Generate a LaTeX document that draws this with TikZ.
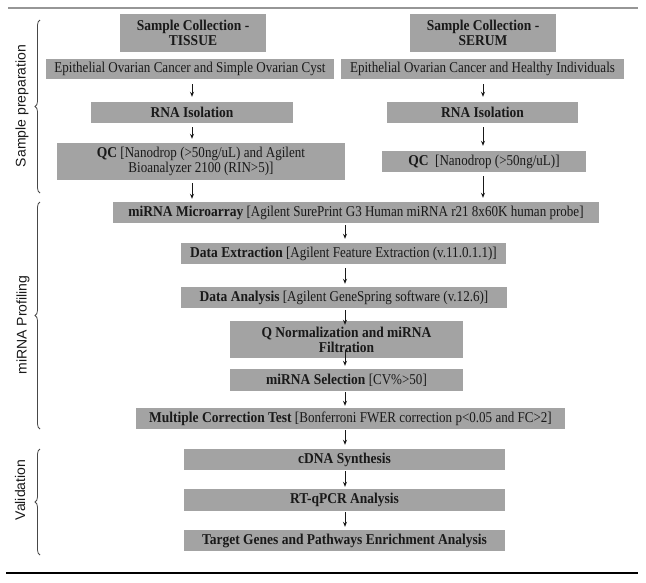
\documentclass[tikz,border=0pt]{standalone}
\usepackage{fontspec}
\setmainfont{Liberation Serif}[UprightFeatures={FakeStretch=0.87},BoldFeatures={FakeStretch=0.9}]
\newfontfamily\labfont{Liberation Sans}
\usetikzlibrary{arrows.meta,decorations.pathreplacing}
\definecolor{boxgray}{RGB}{163,163,163}
\definecolor{linegray}{RGB}{150,150,150}
\definecolor{ink}{RGB}{25,25,25}
\tikzset{
  box/.style={fill=boxgray, inner sep=0pt, align=center, text=ink,
    font=\fontsize{15}{15}\selectfont},
  arr/.style={draw=ink, line width=0.9pt, -{Stealth[length=5pt,width=4pt]}},
  brc/.style={draw=ink!80, line width=0.8pt, decorate,
    decoration={brace, amplitude=5pt}},
  lab/.style={rotate=90, font=\labfont\fontsize{14}{16}\selectfont, text=ink},
}
\begin{document}
\begin{tikzpicture}[x=1pt,y=-1pt]
\useasboundingbox (0,0) rectangle (646,582);
% rules
\draw[linegray, line width=1.1pt] (8,8) -- (638,8);
\draw[black, line width=1.6pt] (6,573) -- (638,573);
% boxes
\node[box, minimum width=146, minimum height=38] (tissue) at (193,33) {\textbf{Sample Collection -}\\\textbf{TISSUE}};
\node[box, minimum width=146, minimum height=38] (serum) at (483,33) {\textbf{Sample Collection -}\\\textbf{SERUM}};
\node[box, minimum width=288, minimum height=20] (epiL) at (190,69) {Epithelial Ovarian Cancer and Simple Ovarian Cyst};
\node[box, minimum width=283, minimum height=20] (epiR) at (482.5,69) {Epithelial Ovarian Cancer and Healthy Individuals};
\node[box, minimum width=202, minimum height=21] (rnaL) at (192,112.5) {\textbf{RNA Isolation}};
\node[box, minimum width=191, minimum height=21] (rnaR) at (482.5,112.5) {\textbf{RNA Isolation}};
\node[box, minimum width=288, minimum height=37] (qcL) at (201,161.5) {\textbf{QC} [Nanodrop (>50ng/uL) and Agilent\\Bioanalyzer 2100 (RIN>5)]};
\node[box, minimum width=204, minimum height=21] (qcR) at (484,161.5) {\textbf{QC}\ \ [Nanodrop (>50ng/uL)]};
\node[box, minimum width=486, minimum height=21] (micro) at (356,212.5) {\textbf{miRNA Microarray} [Agilent SurePrint G3 Human miRNA r21 8x60K human probe]};
\node[box, minimum width=325, minimum height=21] (extr) at (343.5,253.5) {\textbf{Data Extraction} [Agilent Feature Extraction (v.11.0.1.1)]};
\node[box, minimum width=326, minimum height=21] (anal) at (344,297.5) {\textbf{Data Analysis} [Agilent GeneSpring software (v.12.6)]};
\node[box, minimum width=233, minimum height=37] (qnorm) at (346.5,339.5) {\textbf{Q Normalization and miRNA}\\\textbf{Filtration}};
\node[box, minimum width=233, minimum height=22] (sel) at (346.5,380) {\textbf{miRNA Selection} [CV\%>50]};
\node[box, minimum width=429, minimum height=21] (mult) at (350.5,418.5) {\textbf{Multiple Correction Test} [Bonferroni FWER correction p<0.05 and FC>2]};
\node[box, minimum width=321, minimum height=21] (cdna) at (344.5,459.5) {\textbf{cDNA Synthesis}};
\node[box, minimum width=321, minimum height=22] (rt) at (344.5,500) {\textbf{RT-qPCR Analysis}};
\node[box, minimum width=321, minimum height=21] (target) at (344.5,540.5) {\textbf{Target Genes and Pathways Enrichment Analysis}};
% arrow columns
\coordinate (xL) at (192,0);
\coordinate (xR) at (483,0);
\coordinate (xC) at (345,0);
% arrows
\draw[arr, shorten <=5pt, shorten >=5pt] (epiL.south -| xL) -- (rnaL.north -| xL);
\draw[arr, shorten <=4pt, shorten >=4pt] (rnaL.south -| xL) -- (qcL.north -| xL);
\draw[arr, shorten <=3pt, shorten >=3pt] (qcL.south -| xL) -- (micro.north -| xL);
\draw[arr, shorten <=5pt, shorten >=5pt] (epiR.south -| xR) -- (rnaR.north -| xR);
\draw[arr, shorten <=4pt, shorten >=5pt] (rnaR.south -| xR) -- (qcR.north -| xR);
\draw[arr, shorten <=4pt, shorten >=4pt] (qcR.south -| xR) -- (micro.north -| xR);
\draw[arr, shorten <=2pt, shorten >=4pt] (micro.south -| xC) -- (extr.north -| xC);
\draw[arr, shorten <=4pt, shorten >=3pt] (extr.south -| xC) -- (anal.north -| xC);
\draw[arr, shorten <=2pt, shorten >=-4pt] (anal.south -| xC) -- (qnorm.north -| xC);
\draw[arr, shorten <=-8pt, shorten >=3pt] (qnorm.south -| xC) -- (sel.north -| xC);
\draw[arr, shorten <=1pt, shorten >=2pt] (sel.south -| xC) -- (mult.north -| xC);
\draw[arr, shorten <=1pt, shorten >=4pt] (mult.south -| xC) -- (cdna.north -| xC);
\draw[arr, shorten <=1pt, shorten >=2pt] (cdna.south -| xC) -- (rt.north -| xC);
\draw[arr, shorten <=1pt, shorten >=3pt] (rt.south -| xC) -- (target.north -| xC);
% braces
\coordinate (b1t) at (40,20);  \coordinate (b1b) at (40,193);
\coordinate (b2t) at (40,202); \coordinate (b2b) at (40,429);
\coordinate (b3t) at (40,449); \coordinate (b3b) at (40,555);
\draw[brc] (b1b) -- (b1t);
\draw[brc] (b2b) -- (b2t);
\draw[brc] (b3b) -- (b3t);
\node[lab] (l1) at (22,106) {Sample preparation};
\node[lab] (l2) at (23,325) {miRNA Profiling};
\node[lab] (l3) at (20,490) {Validation};
\end{tikzpicture}
\end{document}
